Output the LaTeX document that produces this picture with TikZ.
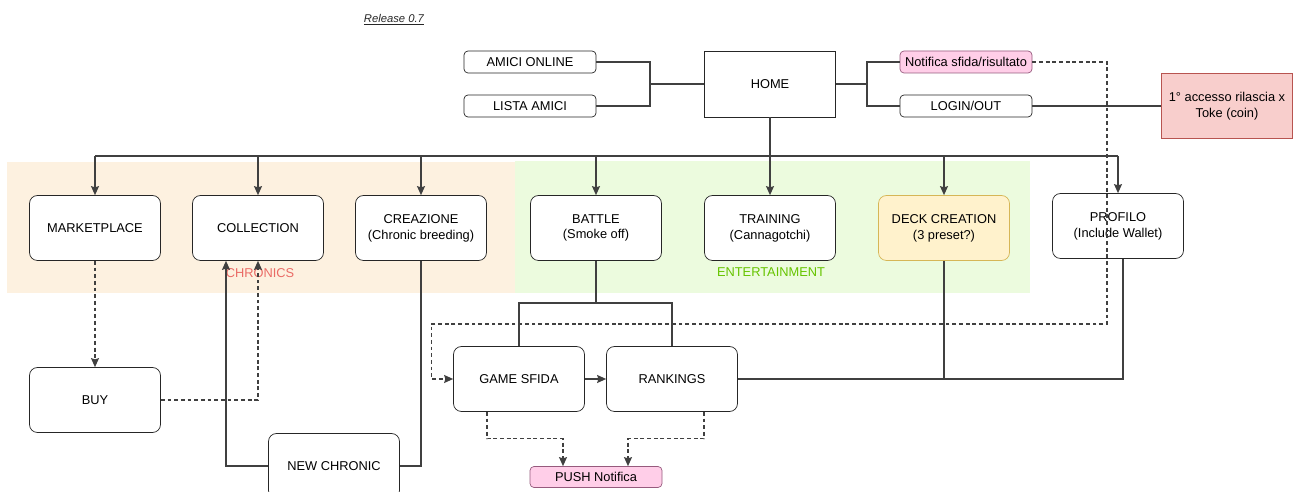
\documentclass[tikz,border=0pt]{standalone}
\usepackage{fontspec}
\setmainfont{Liberation Sans}
\usetikzlibrary{arrows.meta}
\definecolor{chronicsbg}{RGB}{253,241,224}
\definecolor{chronicstxt}{RGB}{234,107,102}
\definecolor{entbg}{RGB}{236,251,222}
\definecolor{enttxt}{RGB}{102,196,0}
\definecolor{pinkfill}{RGB}{255,206,232}
\definecolor{pinkline}{RGB}{150,90,125}
\definecolor{redfill}{RGB}{248,206,204}
\definecolor{redline}{RGB}{184,84,80}
\definecolor{deckfill}{RGB}{255,242,204}
\definecolor{deckline}{RGB}{214,182,86}
\tikzset{
  screen/.style={
    draw=black!85,
    fill=white,
    rounded corners=1.6mm,
    minimum width=26.2mm,
    minimum height=13mm,
    align=center,
    inner sep=1pt,
    font=\fontsize{7.3}{9}\selectfont
  },
  tab/.style={
    screen,
    rounded corners=0.8mm,
    minimum width=26.4mm,
    minimum height=4.4mm
  },
  link/.style={
    draw=black!75,
    line width=0.7pt
  },
  flow/.style={
    link,
    -{Stealth[length=1.8mm,width=1.6mm,inset=0.25mm]}
  },
  hint/.style={
    link,
    dash pattern=on 2.2pt off 1.6pt
  },
  hintflow/.style={
    hint,
    -{Stealth[length=1.8mm,width=1.6mm,inset=0.25mm]}
  },
  area/.style={
    font=\fontsize{7.3}{9}\selectfont
  }
}

\begin{document}
\begin{tikzpicture}[x=0.2mm, y=-0.2mm]
  \path[use as bounding box, clip] (0,0) rectangle (1293,492);

  \fill[chronicsbg] (7,162) rectangle (515,293);
  \fill[entbg] (515,161) rectangle (1030,293);
  \node[area, text=chronicstxt] (chronics) at (260,273) {CHRONICS};
  \node[area, text=enttxt] (ent) at (771,272) {ENTERTAINMENT};

  \node[font=\fontsize{6.4}{8}\selectfont\itshape, text=black!85] (release) at (394,20) {\underline{Release 0.7}};

  \node[tab] (amici) at (530,62) {AMICI ONLINE};
  \node[tab] (lista) at (530,106) {LISTA AMICI};
  \node[screen, rounded corners=0pt, minimum width=26.2mm, minimum height=13.2mm] (home) at (770,84) {HOME};
  \node[tab, fill=pinkfill, draw=pinkline] (notif) at (966,62) {Notifica sfida/risultato};
  \node[tab] (login) at (966,106) {LOGIN/OUT};
  \node[screen, rounded corners=0pt, fill=redfill, draw=redline] (token) at (1227,106) {1° accesso rilascia x\\Toke (coin)};

  \node[screen] (market) at (95,228) {MARKETPLACE};
  \node[screen] (collection) at (258,228) {COLLECTION};
  \node[screen] (creazione) at (421,228) {CREAZIONE\\(Chronic breeding)};
  \node[screen] (battle) at (596,228) {BATTLE\\(Smoke off)};
  \node[screen] (training) at (770,228) {TRAINING\\(Cannagotchi)};
  \node[screen, fill=deckfill, draw=deckline] (deck) at (944,228) {DECK CREATION\\(3 preset?)};
  \node[screen] (profilo) at (1118,226) {PROFILO\\(Include Wallet)};

  \node[screen] (buy) at (95,400) {BUY};
  \node[screen] (newc) at (334,466) {NEW CHRONIC};
  \node[screen] (game) at (519,379) {GAME SFIDA};
  \node[screen] (rank) at (672,379) {RANKINGS};
  \node[tab, minimum height=4.2mm, fill=pinkfill, draw=pinkline] (push) at (596,477) {PUSH Notifica};

  \coordinate (fl) at (650,84);
  \coordinate (fr) at (867,84);
  \coordinate (bus) at (770,156);
  \coordinate (split) at (596,303);
  \coordinate (nd) at (1107,324);

  \draw[link] (amici.east) -| (fl) |- (lista.east);
  \draw[link] (fl) -- (home.west);
  \draw[link] (notif.west) -| (fr) |- (login.west);
  \draw[link] (fr) -- (home.east);
  \draw[link] (login.east) -- (token.west);

  \draw[link] (home.south) -- (bus);
  \draw[link] (market.north |- bus) -- (profilo.north |- bus);
  \foreach \n in {market,collection,creazione,battle,training,deck,profilo}
    \draw[flow] (\n.north |- bus) -- (\n.north);

  \draw[hintflow] (market.south) -- (buy.north);
  \draw[hintflow] (buy.east) -| (collection.south);
  \draw[flow] (newc.west) -| ([xshift=-6.4mm]collection.south);
  \draw[link] (creazione.south) |- (newc.east);

  \draw[link] (battle.south) -- (split);
  \draw[link] (game.north) |- (split) -| (rank.north);
  \draw[flow] (game) -- (rank);
  \draw[hintflow] ([xshift=-6.4mm]game.south) -- ++(0,27) -| ([xshift=-6.6mm]push.north);
  \draw[hintflow] ([xshift=6.4mm]rank.south) -- ++(0,27) -| ([xshift=6.4mm]push.north);

  \draw[link] ([xshift=1mm]profilo.south) |- (rank.east);
  \draw[link] (deck.south) -- (deck.south |- rank.east);

  \draw[hintflow] (notif.east) -| (nd) -| ([xshift=-4.4mm]game.west) -- (game.west);
\end{tikzpicture}
\end{document}
